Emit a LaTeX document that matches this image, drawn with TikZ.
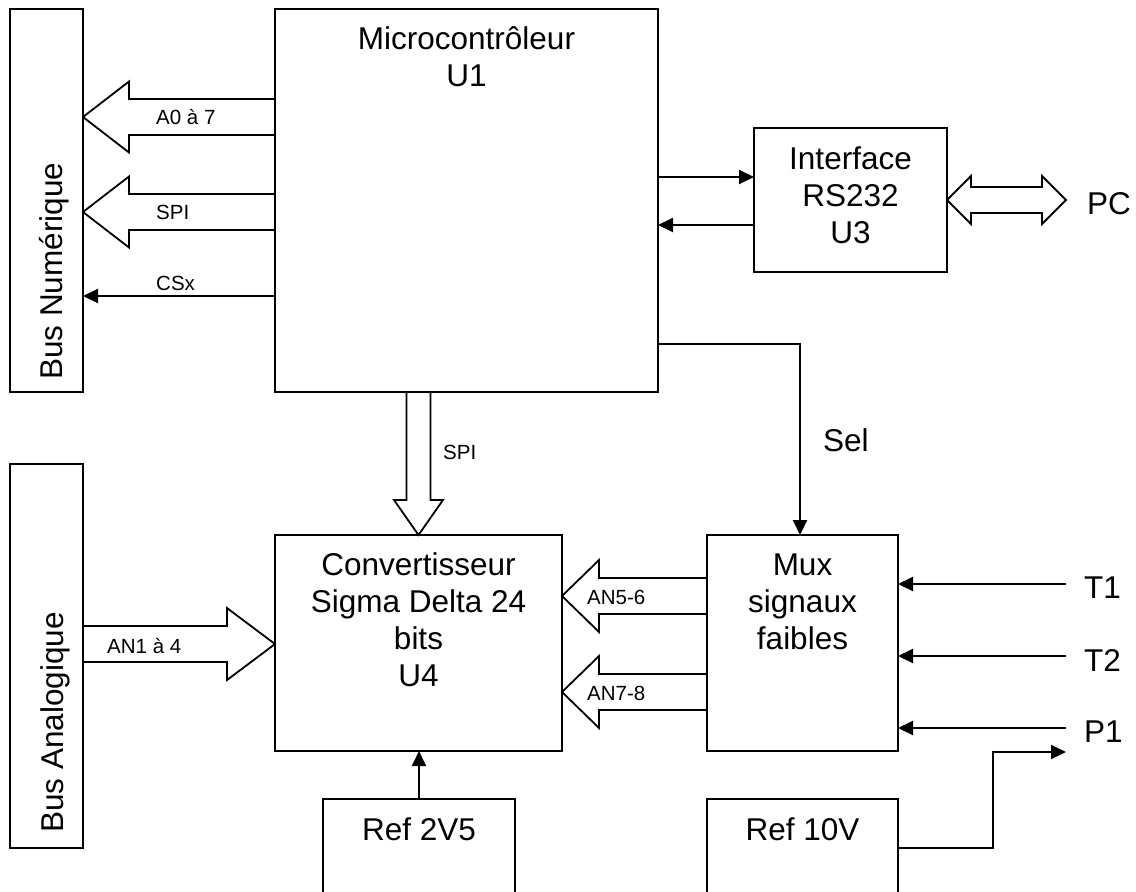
\documentclass[tikz,border=0pt]{standalone}
\usepackage{fontspec}
\setmainfont{Liberation Sans}
\usetikzlibrary{calc,arrows.meta}
\tikzset{
 box/.style={draw, line width=2pt, inner sep=0pt, outer sep=0pt, anchor=north west},
 big/.style={font=\fontsize{31.5pt}{37pt}\selectfont, inner sep=0pt, align=center},
 small/.style={font=\fontsize{20.5pt}{24pt}\selectfont, inner sep=0pt, anchor=west},
 sig/.style={line width=2pt, -{Triangle[length=15pt,width=14pt]}},
 hollow/.style={line width=1.8pt, line join=miter},
}
\newcommand\hollowarr[5]{%
 \coordinate (hbase) at ($(#2)!#5!(#1)$);
 \draw[hollow] ($(#1)!#3!90:(#2)$) -- ($(hbase)!#3!90:(#2)$) -- ($(hbase)!#4!90:(#2)$) -- (#2)
   -- ($(hbase)!#4!-90:(#2)$) -- ($(hbase)!#3!-90:(#2)$) -- ($(#1)!#3!-90:(#2)$);
}
\newcommand\doublearr[5]{%
 \coordinate (hbA) at ($(#1)!#5!(#2)$);
 \coordinate (hbB) at ($(#2)!#5!(#1)$);
 \draw[hollow] (#1) -- ($(hbA)!#4!90:(#2)$) -- ($(hbA)!#3!90:(#2)$) -- ($(hbB)!#3!-90:(#1)$)
   -- ($(hbB)!#4!-90:(#1)$) -- (#2) -- ($(hbB)!#4!90:(#1)$) -- ($(hbB)!#3!90:(#1)$)
   -- ($(hbA)!#3!-90:(#2)$) -- ($(hbA)!#4!-90:(#2)$) -- cycle;
}
\begin{document}
\begin{tikzpicture}[x=1pt,y=-1pt]
\useasboundingbox (0,0) rectangle (1136,892);
\clip (0,0) rectangle (1136,892);
% boxes
\node[box, minimum width=73pt, minimum height=383pt] (busnum) at (10,9) {};
\node[box, minimum width=73pt, minimum height=384pt] (busana) at (10,464) {};
\node[box, minimum width=383pt, minimum height=383pt] (micro) at (275,9) {};
\node[box, minimum width=193pt, minimum height=144pt] (iface) at (754,128) {};
\node[box, minimum width=287pt, minimum height=216pt] (conv) at (275,535) {};
\node[box, minimum width=191pt, minimum height=216pt] (mux) at (707,535) {};
\node[box, minimum width=192pt, minimum height=130pt] (ref25) at (323,799) {};
\node[box, minimum width=191pt, minimum height=130pt] (ref10) at (707,799) {};
% box texts (base anchor = baseline of the last line)
\node[big, anchor=base] (microt) at ($(micro.north)+(0,77)$) {Microcontrôleur\\U1};
\node[big, anchor=base] (ifacet) at ($(iface.north)+(0,115)$) {Interface\\RS232\\U3};
\node[big, anchor=base] (convt) at ($(conv.north)+(0,151)$) {Convertisseur\\Sigma Delta 24\\bits\\U4};
\node[big, anchor=base] (muxt) at ($(mux.north)+(0,114)$) {Mux\\signaux\\faibles};
\node[big, anchor=base] (ref25t) at ($(ref25.north)+(0,41)$) {Ref 2V5};
\node[big, anchor=base] (ref10t) at ($(ref10.north)+(0,41)$) {Ref 10V};
\node[big, rotate=90, anchor=base west] (busnumt) at (62,380) {Bus Numérique};
\node[big, rotate=90, anchor=base west] (busanat) at (63,833) {Bus Analogique};
% outer labels
\node[big, anchor=west] (sel) at (823,440) {Sel};
\node[big, anchor=west] (T1) at (1084,588) {T1};
\node[big, anchor=west] (T2) at (1084,660) {T2};
\node[big, anchor=west] (P1) at (1084,732) {P1};
\node[big, anchor=west] (PC) at (1087,204) {PC};
% small labels
\node[small] (lA0) at (156,117) {A0 à 7};
\node[small] (lSPIa) at (156,212) {SPI};
\node[small] (lCS) at (156,283) {CSx};
\node[small] (lSPIb) at (443,452) {SPI};
\node[small] (lAN1) at (107,646) {AN1 à 4};
\node[small] (lAN56) at (587,597) {AN5-6};
\node[small] (lAN78) at (587,693) {AN7-8};
% hollow bus arrows
\coordinate (a0a) at ($(micro.north west)+(0,108)$);
\coordinate (a0b) at (busnum.east |- a0a);
\hollowarr{a0a}{a0b}{18pt}{35.5pt}{46pt}
\coordinate (spa) at ($(micro.north west)+(0,203)$);
\coordinate (spb) at (busnum.east |- spa);
\hollowarr{spa}{spb}{18pt}{35.5pt}{46pt}
\coordinate (spia) at (conv.north |- micro.south);
\coordinate (spib) at (conv.north);
\hollowarr{spia}{spib}{12pt}{24.5pt}{35pt}
\coordinate (an1b) at ($(conv.north west)+(0,109)$);
\coordinate (an1a) at (busana.east |- an1b);
\hollowarr{an1a}{an1b}{18pt}{36pt}{48pt}
\coordinate (an56a) at ($(mux.north west)+(0,61)$);
\coordinate (an56b) at (conv.east |- an56a);
\hollowarr{an56a}{an56b}{18pt}{36pt}{37pt}
\coordinate (an78a) at ($(mux.north west)+(0,157)$);
\coordinate (an78b) at (conv.east |- an78a);
\hollowarr{an78a}{an78b}{18pt}{36pt}{37pt}
\coordinate (pca) at (iface.east);
\coordinate (pcb) at ($(PC.west)+(-21,-4)$);
\doublearr{pca}{pcb}{13pt}{24pt}{24pt}
% signal lines
\coordinate (cs) at ($(micro.north west)+(0,287)$);
\draw[sig] (cs) -- (busnum.east |- cs);
\coordinate (ifin) at ($(iface.north west)+(0,49)$);
\draw[sig] (micro.east |- ifin) -- (ifin);
\coordinate (ifout) at ($(iface.north west)+(0,97)$);
\draw[sig] (ifout) -- (micro.east |- ifout);
\draw[sig] ($(micro.north east)+(0,335)$) -| ($(mux.north west)+(93,0)$);
\coordinate (t1s) at ($(T1.west)+(-18,-4)$);
\draw[sig] (t1s) -- (mux.east |- t1s);
\coordinate (t2s) at ($(T2.west)+(-18,-4)$);
\draw[sig] (t2s) -- (mux.east |- t2s);
\coordinate (p1s) at ($(P1.west)+(-18,-4)$);
\draw[sig] (p1s) -- (mux.east |- p1s);
\coordinate (p1e) at ($(P1.west)+(-18,20)$);
\draw[sig] ($(ref10.north east)+(0,49)$) -- ++(95,0) |- (p1e);
\draw[sig] (ref25.north) -- (ref25.north |- conv.south);
\end{tikzpicture}
\end{document}
